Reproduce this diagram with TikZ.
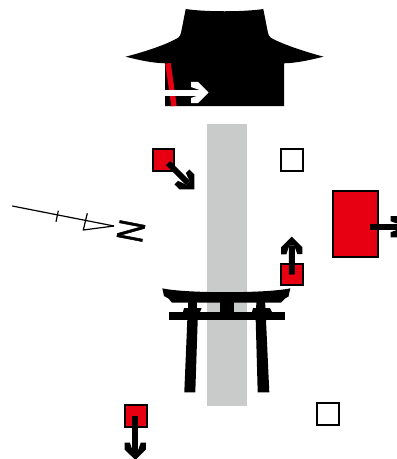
\documentclass[tikz,border=0pt]{standalone}
\usepackage{fontspec}
\setmainfont{Liberation Sans}
\newfontfamily\northfont{Liberation Sans}[FakeBold=1.5]
\usetikzlibrary{arrows.meta}
\definecolor{mapred}{HTML}{E60012}
\definecolor{roadgray}{HTML}{C9CACA}
\pgfdeclarearrow{
    name=Chevron,
    setup code={
        \pgfarrowssettipend{0pt}
        \pgfarrowssetbackend{-17.5pt}
        \pgfarrowssetlineend{-9pt}
        \pgfarrowssetvisualbackend{-9pt}
        \pgfarrowshullpoint{0pt}{0pt}
        \pgfarrowshullpoint{-17.5pt}{10.6pt}
        \pgfarrowshullpoint{-17.5pt}{-10.6pt}
    },
    drawing code={
        \pgfpathmoveto{\pgfpointorigin}
        \pgfpathlineto{\pgfqpoint{-10.5pt}{10.6pt}}
        \pgfpathlineto{\pgfqpoint{-17.5pt}{10.6pt}}
        \pgfpathlineto{\pgfqpoint{-17.5pt}{5.5pt}}
        \pgfpathlineto{\pgfqpoint{-9pt}{2.5pt}}
        \pgfpathlineto{\pgfqpoint{-9pt}{-2.5pt}}
        \pgfpathlineto{\pgfqpoint{-17.5pt}{-5.5pt}}
        \pgfpathlineto{\pgfqpoint{-17.5pt}{-10.6pt}}
        \pgfpathlineto{\pgfqpoint{-10.5pt}{-10.6pt}}
        \pgfpathclose
        \pgfusepathqfill
    }
}

\begin{document}
\begin{tikzpicture}[x=1pt, y=-1pt,
        redbox/.style={draw=black, fill=mapred, line width=2pt, minimum size=21.7pt, inner sep=0pt},
        whitebox/.style={draw=black, fill=white, line width=2pt, minimum size=21.7pt, inner sep=0pt},
        arr/.style={-{Chevron}, line width=6pt}
    ]
        \useasboundingbox (0,0) rectangle (397,459);

        % ROAD
        \fill[roadgray] (206.7,124) rectangle (246.7,406);

        % HALL
        \fill[black] (185.7,9) .. controls (205,12) and (244,12) .. (263.3,9)
            -- (268,33) .. controls (269,37) and (271,38) .. (275,40)
            .. controls (290,47) and (310,53) .. (323.5,56.7)
            .. controls (310,60) and (297,63) .. (284,63.3)
            -- (284,106) -- (165,106) -- (165,63.3)
            .. controls (152,63) and (139,60) .. (125.5,56.7)
            .. controls (140,53) and (160,47) .. (174,40)
            .. controls (178,38) and (180,37) .. (181,33) -- cycle;
        \draw[mapred, line width=5.5pt] (168,63.3) -- (174,106);
        \coordinate (hallfrom) at (165,92.5);
        \coordinate (hallto) at (208.5,92.5);
        \draw[arr, white] (hallfrom) -- (hallto);

        % GATE
        \fill[black] (162.3,288.3) .. controls (185,293.5) and (267,293.5) .. (290.3,288.3)
            -- (288.5,296.5) -- (285,298.5) -- (281,302.7) -- (172,302.7) -- (168.5,298.5) -- (164,296) -- cycle;
        \fill[black] (169,311.7) rectangle (285,320.3);
        \fill[black] (220,302) rectangle (234,312);
        \fill[black] (188.3,302) -- (196.7,302) -- (197,308) -- (201.7,308) -- (200,312) -- (183,312) -- (184,308) -- (188,308) -- cycle;
        \fill[black] (256.5,302) -- (265,302) -- (265.5,308) -- (270,308) -- (272,312) -- (252,312) -- (253,308) -- (256,308) -- cycle;
        \fill[black] (187.3,320) -- (197.7,320) -- (195.3,392.3) -- (184.3,392.3) -- cycle;
        \fill[black] (255.7,320) -- (266,320) -- (269.3,392.3) -- (257.7,392.3) -- cycle;

        % NORTH MARK
        \coordinate (northtail) at (12.3,206);
        \coordinate (northtip) at (114,226);
        \draw[line width=1.2pt] (northtail) -- (northtip);
        \draw[line width=1.2pt] (58.3,210.7) -- (56,221.7);
        \draw[line width=1.2pt, line join=miter] (87.3,213.3) -- (83.3,230) -- (northtip);
        \node[rotate=-101, xscale=0.9, yscale=1.13, inner sep=0pt, font=\fontsize{33}{33}\northfont] (north) at (131,231) {N};

        % PLOTS
        \node[redbox] (plota) at (163.5,160) {};
        \node[whitebox] (plotb) at (292,160) {};
        \node[redbox, minimum width=45.3pt, minimum height=66.3pt] (plotc) at (355.3,224) {};
        \node[redbox] (plotd) at (292,274.5) {};
        \node[redbox] (plote) at (136,416.3) {};
        \node[whitebox] (plotf) at (328,414) {};

        % CONNECTORS
        \coordinate (atip) at (194.3,189.3);
        \coordinate (ctip) at (408,226.7);
        \coordinate (dtip) at (291.7,236.7);
        \coordinate (etip) at (135.3,460);
        \draw[arr] ([shift={(4.5,3)}]plota.center) -- (atip);
        \draw[arr] ([shift={(14.7,2.7)}]plotc.center) -- (ctip);
        \draw[arr] (plotd.center) -- (dtip);
        \draw[arr] ([shift={(-0.7,-0.6)}]plote.center) -- (etip);
    \end{tikzpicture}
\end{document}
